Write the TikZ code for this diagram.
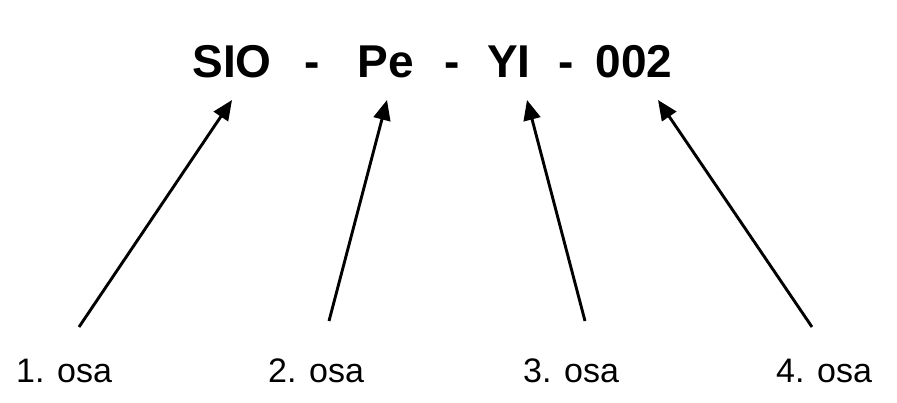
\documentclass[tikz,border=0pt]{standalone}
\usepackage{fontspec}
\setmainfont{Liberation Sans}
\usetikzlibrary{arrows.meta}
\begin{document}
\begin{tikzpicture}[x=1pt,y=-1pt,
  part/.style={font=\fontsize{46}{46}\selectfont\bfseries, inner sep=0pt, anchor=base},
  lbl/.style={font=\fontsize{34}{34}\selectfont, inner sep=0pt, anchor=base west},
  arr/.style={line width=2.9pt, -{Triangle[length=20pt,width=17pt]}}]
\useasboundingbox (0,0) rectangle (897,403);
\node[part] (sio) at (232,78) {SIO};
\node[part] (d1) at (312,78) {-};
\node[part] (pe) at (386,78) {Pe};
\node[part] (d2) at (452,78) {-};
\node[part] (yi) at (509,78) {YI};
\node[part] (d3) at (566,78) {-};
\node[part] (num) at (634,78) {002};
\node[lbl] (l1) at (16,382) {1. osa};
\node[lbl] (l2) at (268,382) {2. osa};
\node[lbl] (l3) at (523,382) {3. osa};
\node[lbl] (l4) at (776,382) {4. osa};
\coordinate (s1) at (79,327);
\coordinate (s2) at (329,321);
\coordinate (s3) at (585,321);
\coordinate (s4) at (812,327);
\coordinate (t1) at (232,100);
\coordinate (t2) at (387,100);
\coordinate (t3) at (527,100);
\coordinate (t4) at (658,100);
\draw[arr] (s1) -- (t1);
\draw[arr] (s2) -- (t2);
\draw[arr] (s3) -- (t3);
\draw[arr] (s4) -- (t4);
\end{tikzpicture}
\end{document}
